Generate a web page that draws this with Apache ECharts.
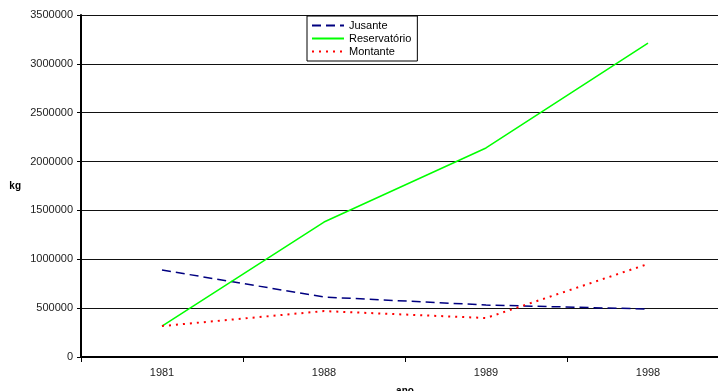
<!DOCTYPE html>
<html>
<head>
<meta charset="utf-8">
<script src="https://cdn.jsdelivr.net/npm/echarts@6/dist/echarts.min.js"></script>
<style>
  html, body { margin: 0; padding: 0; background: #fff; }
  #chart { width: 718px; height: 391px; }
</style>
</head>
<body>
<div id="chart"></div>
<script>
// Years on the category axis
const anos = ['1981', '1988', '1989', '1998'];

// Mass (kg) per site
const jusante = [890000, 614000, 532000, 491000];
const reservatorio = [317000, 1381000, 2139000, 3213000];
const montante = [317000, 470000, 399000, 952000];

const yTicks = { min: 0, max: 3500000, interval: 500000 };

const font = 'Liberation Sans, Arial, sans-serif';

const chart = echarts.init(document.getElementById('chart'), null, { renderer: 'canvas' });

chart.setOption({
  animation: false,
  backgroundColor: '#ffffff',
  textStyle: { fontFamily: font },
  grid: { left: 81, top: 15, right: -11, bottom: 34, containLabel: false, outerBoundsMode: 'none' },
  legend: {
    orient: 'vertical',
    left: 307,
    top: 16,
    padding: [4, 6, 4, 4],
    itemGap: 2,
    itemWidth: 32,
    itemHeight: 12,
    backgroundColor: '#ffffff',
    borderColor: '#000000',
    borderWidth: 1,
    itemStyle: { opacity: 0 },
    textStyle: { fontFamily: font, fontSize: 11, color: '#000' },
    data: ['Jusante', 'Reservatório', 'Montante']
  },
  xAxis: {
    type: 'category',
    data: anos,
    boundaryGap: true,
    name: 'ano',
    nameLocation: 'middle',
    nameGap: 29,
    nameTextStyle: { fontFamily: font, fontSize: 10, fontWeight: 'bold', color: '#000' },
    axisLine: { show: true, lineStyle: { color: '#000', width: 2 } },
    axisTick: { show: true, length: 5, lineStyle: { color: '#000', width: 1 } },
    axisLabel: { fontFamily: font, fontSize: 11, color: '#222', margin: 10 },
    splitLine: { show: false }
  },
  yAxis: {
    type: 'value',
    min: yTicks.min,
    max: yTicks.max,
    interval: yTicks.interval,
    name: 'kg',
    nameLocation: 'middle',
    nameRotate: 0,
    nameGap: 60,
    nameTextStyle: { fontFamily: font, fontSize: 10, fontWeight: 'bold', color: '#000' },
    axisLine: { show: true, lineStyle: { color: '#000', width: 2 } },
    axisTick: { show: true, length: 4, lineStyle: { color: '#000', width: 1 } },
    axisLabel: { fontFamily: font, fontSize: 11, color: '#222', margin: 8, formatter: v => String(v) },
    splitLine: { show: true, lineStyle: { color: '#111', width: 1 } }
  },
  series: [
    {
      name: 'Jusante',
      type: 'line',
      data: jusante,
      symbol: 'none',
      color: '#000080',
      lineStyle: { color: '#000080', width: 1.5, type: [9, 5] }
    },
    {
      name: 'Reservatório',
      type: 'line',
      data: reservatorio,
      symbol: 'none',
      color: '#00ff00',
      lineStyle: { color: '#00ff00', width: 1.5, type: 'solid' }
    },
    {
      name: 'Montante',
      type: 'line',
      data: montante,
      symbol: 'none',
      color: '#ff0000',
      lineStyle: { color: '#ff0000', width: 2, type: [2, 5] }
    }
  ]
});
</script>
</body>
</html>
